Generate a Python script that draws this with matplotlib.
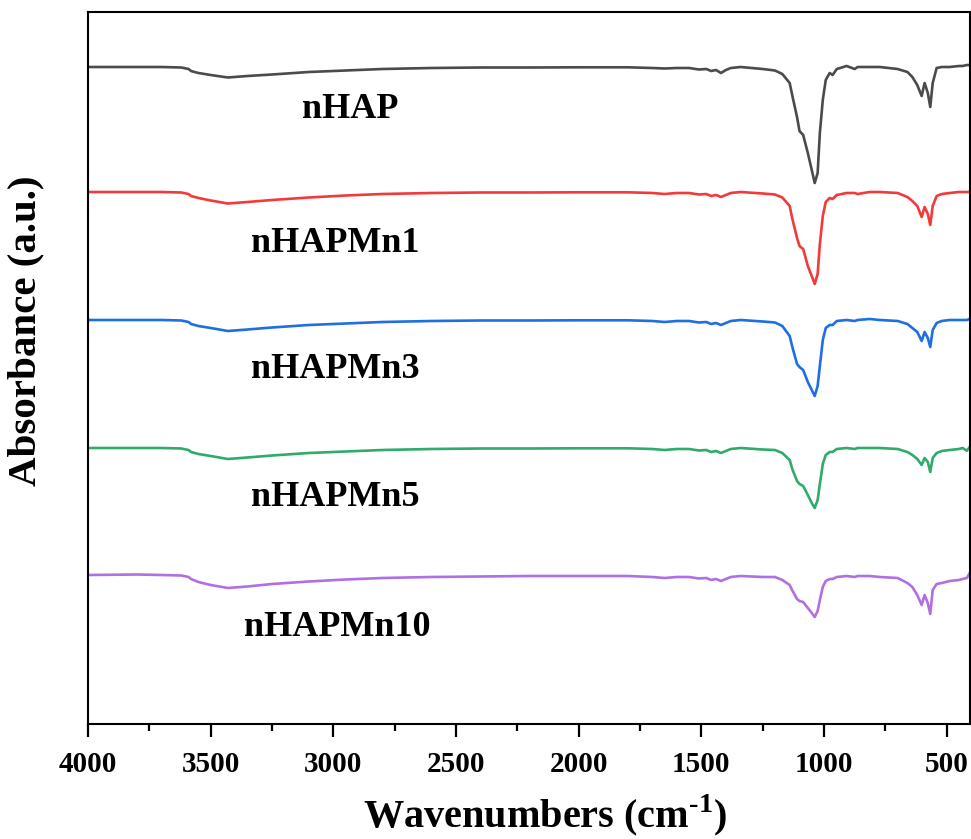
import numpy as np
import matplotlib
matplotlib.use("Agg")
import matplotlib.pyplot as plt
from matplotlib.ticker import MultipleLocator

plt.rcParams['font.family'] = ['Liberation Serif', 'DejaVu Serif']
plt.rcParams['font.weight'] = 'bold'
plt.rcParams['mathtext.fontset'] = 'custom'
plt.rcParams['mathtext.rm'] = 'Liberation Serif:bold'

# wavenumber grid (cm-1), shared by all spectra
wavenumber = [4000, 3800, 3700, 3620, 3590, 3580, 3550, 3500, 3430, 3350, 3250, 3100,
              2950, 2800, 2600, 2400, 2200, 2000, 1800, 1700, 1650, 1600, 1550, 1510,
              1480, 1460, 1440, 1420, 1400, 1380, 1340, 1250, 1200, 1170, 1140, 1128,
              1110, 1100, 1085, 1066, 1050, 1038, 1026, 1017, 1005, 993, 977, 965,
              948, 908, 875, 863, 814, 773, 700, 660, 640, 620, 602, 590,
              577, 567, 557, 541, 520, 488, 450, 435, 418, 406]

# signal (a.u., baseline = 0)
nhap = [0, 0, 0, -0.5, -2, -4, -6, -8, -10.5, -9, -7.5, -5,
        -3.5, -2, -1, -0.5, -0.5, -0.3, -0.3, -1, -1.5, -1, -1, -2.5,
        -2, -4, -3, -6, -3, -1, 0, -2, -3.5, -7, -16, -30,
        -50, -64, -68, -86, -103, -116, -106, -66, -33, -13, -6, -8,
        -2, 1, -2, 0, 0, 0, -2, -5, -10, -18, -29, -16,
        -26, -40, -16, -1, 0, 0, 1, 1, 2, 2]
nhap_mn1 = [0, 0, 0, -0.5, -2, -4, -6, -8.5, -11.5, -10, -8, -5.5,
            -3.5, -2, -1, -0.5, -0.5, -0.3, -0.3, -1, -2, -1, -1, -2.5,
            -2, -4, -3, -5, -3, -1, 0, -1.5, -2.5, -5.5, -14, -28,
            -46, -54, -57, -74, -84, -92, -82, -52, -24, -10, -6, -7,
            -3, -1, -1, -2, 0, 0, -1, -5, -9, -14, -25, -15,
            -22, -33, -14, -4, -2, -1, 0, 0, 0, 0]
nhap_mn3 = [0, 0, 0, -0.5, -2, -4, -6, -8, -11, -9.5, -7.5, -5,
            -3.5, -2, -1, -0.5, -0.5, -0.3, -0.3, -1, -2, -1, -1, -2.5,
            -2, -4, -3, -5, -3, -1, 0, -1.5, -2.5, -6, -16, -28,
            -44, -47, -50, -62, -70, -76, -66, -46, -20, -8, -5, -5,
            -1, 0, -1, 0, 1, 0, -1, -4, -8, -12, -21, -12,
            -18, -27, -10, -3, -1, 0, 0, 0, 0, 1]
nhap_mn5 = [0, 0, 0, -0.5, -2, -4, -6, -8, -11, -9.5, -7.5, -5,
            -3.5, -2, -1, -0.5, -0.5, -0.3, -0.3, -1, -2, -1, -1, -2.5,
            -2, -4, -3, -5, -3, -1, 0, -1.5, -2, -5, -12, -22,
            -33, -36, -38, -47, -55, -60, -52, -36, -16, -7, -4, -4,
            -1, 0, -1, 0, 0, 0, -1, -4, -7, -11, -17, -10,
            -14, -24, -10, -5, -3, -2, -1, 0, -2.7, 1]
nhap_mn10 = [0, 0.5, 0, -0.5, -2, -4, -7, -10, -13, -11.5, -9, -6.5,
             -4.5, -3, -2, -1.5, -1, -1, -1, -2, -3, -2, -2, -3.5,
             -3, -5, -4, -6, -4, -2, -1, -2, -2, -5, -10, -16,
             -24, -26, -27, -33, -38, -42, -36, -25, -12, -6, -4, -4,
             -2, -1, -2, -1, -1, -2, -3, -8, -12, -20, -30, -20,
             -28, -39, -15, -9, -8, -6, -5, -4, -3, 2]

labels = ['nHAP', 'nHAPMn1', 'nHAPMn3', 'nHAPMn5', 'nHAPMn10']
spectra = [nhap, nhap_mn1, nhap_mn3, nhap_mn5, nhap_mn10]
offsets = [657, 532, 404, 276, 149]
colors = ['#4b4b4b', '#f23a3a', '#1d6fe3', '#2fab6b', '#b06fe3']
label_pos = [(2932, 614), (2994, 481), (2994, 354), (2994, 227), (2985, 97)]

fig = plt.figure(figsize=(9.71, 8.39), dpi=100)
ax = fig.add_axes([88 / 971, 115 / 839, 882 / 971, 712 / 839])

for s, off, c, lab, (lx, ly) in zip(spectra, offsets, colors, labels, label_pos):
    ax.plot(wavenumber, np.array(s) + off, color=c, lw=1.9)
    ax.text(lx, ly, lab, ha='center', va='center', fontsize=26, fontweight='bold')

ax.set_xlim(4000, 405)
ax.set_ylim(0, 712)
ax.xaxis.set_major_locator(MultipleLocator(500))
ax.xaxis.set_minor_locator(MultipleLocator(250))
ax.tick_params(axis='x', which='major', length=9.5, width=1.6, labelsize=21, pad=10)
ax.tick_params(axis='x', which='minor', length=5, width=1.6)
ax.set_yticks([])
for sp in ax.spines.values():
    sp.set_linewidth(1.5)

ax.set_xlabel(r'Wavenumbers (cm$^{\text{-1}}$)', fontsize=29, fontweight='bold')
ax.xaxis.set_label_coords(0.518, -0.096)
ax.set_ylabel('Absorbance (a.u.)', fontsize=29.5, fontweight='bold')
ax.yaxis.set_label_coords(-0.049, 0.553)

fig.savefig('out.png', dpi=100)
